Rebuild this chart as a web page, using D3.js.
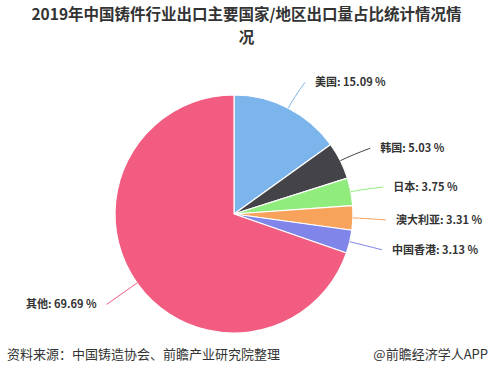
<!DOCTYPE html>
<html><head><meta charset="utf-8">
<script src="https://cdn.jsdelivr.net/npm/d3@7/dist/d3.min.js"></script>
<style>
html,body{margin:0;padding:0;background:#fff;}
svg{display:block;font-family:"Noto Sans CJK SC","Noto Sans",sans-serif;}
</style></head>
<body>
<svg id="chart" width="493" height="382"></svg>
<script>
const categories = ["美国", "韩国", "日本", "澳大利亚", "中国香港", "其他"];
const values = [15.09, 5.03, 3.75, 3.31, 3.13, 69.69];
const colors = ["#7cb5ec", "#434348", "#90ed7d", "#f7a35c", "#8085e9", "#f15c80"];
const titleLines = ["2019年中国铸件行业出口主要国家/地区出口量占比统计情况情", "况"];
const sourceText = "资料来源：中国铸造协会、前瞻产业研究院整理";
const brandText = "@前瞻经济学人APP";

const W = 493, H = 382;
const cx = 234, cy = 214, R = 119, dist = 30;
const svg = d3.select("#chart");

const title = svg.append("text")
  .attr("text-anchor","middle")
  .attr("font-size","15.5px").attr("font-weight","bold").attr("fill","#333");
title.selectAll("tspan").data(titleLines).join("tspan")
  .attr("x", W/2).attr("y", (d,i)=>20 + i*22.6)
  .text(d=>d);

const data = categories.map((c,i)=>({name:c, value:values[i], color:colors[i]}));
const pie = d3.pie().value(d=>d.value).sort(null);
const arcs = pie(data);
const total = d3.sum(values);
const arcGen = d3.arc().innerRadius(0).outerRadius(R);

const g = svg.append("g").attr("transform",`translate(${cx},${cy})`);
g.selectAll("path.slice").data(arcs).join("path")
  .attr("class","slice")
  .attr("d", arcGen)
  .attr("fill", d=>d.data.color)
  .attr("stroke","#fff").attr("stroke-width",1.2).attr("stroke-linejoin","round");

// labels
arcs.forEach(a=>{
  const mid = (a.startAngle + a.endAngle)/2;
  const sx = Math.sin(mid), sy = -Math.cos(mid);
  const right = sx >= 0;
  const p0 = [R*sx, R*sy];
  const pc = [(R+12)*sx, (R+12)*sy];
  const lx = (R+dist)*sx + (right?3:-6), ly = (R+dist)*sy + (right?1:4);
  g.append("path")
    .attr("d", `M${p0[0]},${p0[1]} Q${pc[0]},${pc[1]} ${lx},${ly}`)
    .attr("fill","none").attr("stroke", a.data.color).attr("stroke-width",1);
  const pct = (a.data.value/total*100).toFixed(2);
  g.append("text")
    .attr("x", lx + (right?10:-10)).attr("y", ly)
    .attr("dy","0.35em")
    .attr("text-anchor", right?"start":"end")
    .attr("font-size","11px").attr("font-weight","bold").attr("fill","#333")
    .text(`${a.data.name}: ${pct} %`);
});

svg.append("text").attr("x",7).attr("y",354).attr("dy","0.35em")
  .attr("font-size","13px").attr("fill","#333").text(sourceText);
svg.append("text").attr("x",488).attr("y",354).attr("dy","0.35em")
  .attr("text-anchor","end")
  .attr("font-size","13px").attr("fill","#333").text(brandText);
</script>
</body></html>
